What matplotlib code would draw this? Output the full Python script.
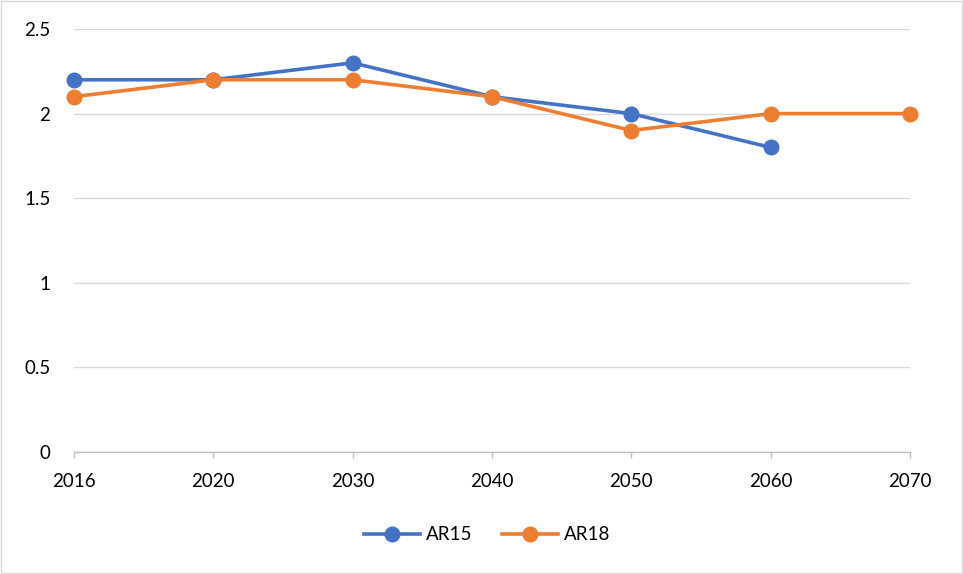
import matplotlib
matplotlib.use("Agg")
import matplotlib.pyplot as plt
import numpy as np
from matplotlib.patches import Rectangle

categories = ["2016", "2020", "2030", "2040", "2050", "2060", "2070"]
ar15 = [2.2, 2.2, 2.3, 2.1, 2.0, 1.8, None]
ar18 = [2.1, 2.2, 2.2, 2.1, 1.9, 2.0, 2.0]
yticks = [0, 0.5, 1, 1.5, 2, 2.5]
ytick_labels = ["0", "0.5", "1", "1.5", "2", "2.5"]

blue = "#4472C4"
orange = "#ED7D31"

plt.rcParams["font.family"] = ["Lato", "DejaVu Sans"]

fig = plt.figure(figsize=(9.63, 5.74), dpi=100)
fig.patch.set_facecolor("white")
ax = fig.add_axes([74/963, 1-452/574, (910-74)/963, (452-29)/574])

x = np.arange(len(categories))
y15 = np.array([np.nan if v is None else v for v in ar15], dtype=float)
y18 = np.array(ar18, dtype=float)

ax.plot(x, y15, color=blue, lw=2.6, marker="o", ms=10.5, label="AR15", zorder=3, clip_on=False)
ax.plot(x, y18, color=orange, lw=2.6, marker="o", ms=10.5, label="AR18", zorder=4, clip_on=False)

ax.set_xlim(0, len(categories) - 1)
ax.set_ylim(0, 2.5)
ax.set_xticks(x)
ax.set_xticklabels(categories)
ax.set_yticks(yticks)
ax.set_yticklabels(ytick_labels)
ax.tick_params(axis="y", length=0, labelsize=13.5, colors="black", pad=17)
ax.tick_params(axis="x", length=4, width=1, color="#BFBFBF", labelsize=13.5,
               labelcolor="black", pad=11)

ax.grid(axis="y", color="#D9D9D9", lw=1)
ax.set_axisbelow(True)
for s in ["top", "right", "left"]:
    ax.spines[s].set_visible(False)
ax.spines["bottom"].set_color("#BFBFBF")
ax.spines["bottom"].set_linewidth(1)

leg = fig.legend(loc="center", bbox_to_anchor=(487/963, 1-535/574), ncol=2,
                 frameon=False, fontsize=13.5, handlelength=3.0, columnspacing=1.6,
                 handletextpad=0.3)

fig.patches.append(Rectangle((0.001, 0.001), 0.998, 0.998, transform=fig.transFigure,
                             fill=False, edgecolor="#D9D9D9", lw=1))

fig.savefig("out.png", dpi=100)
